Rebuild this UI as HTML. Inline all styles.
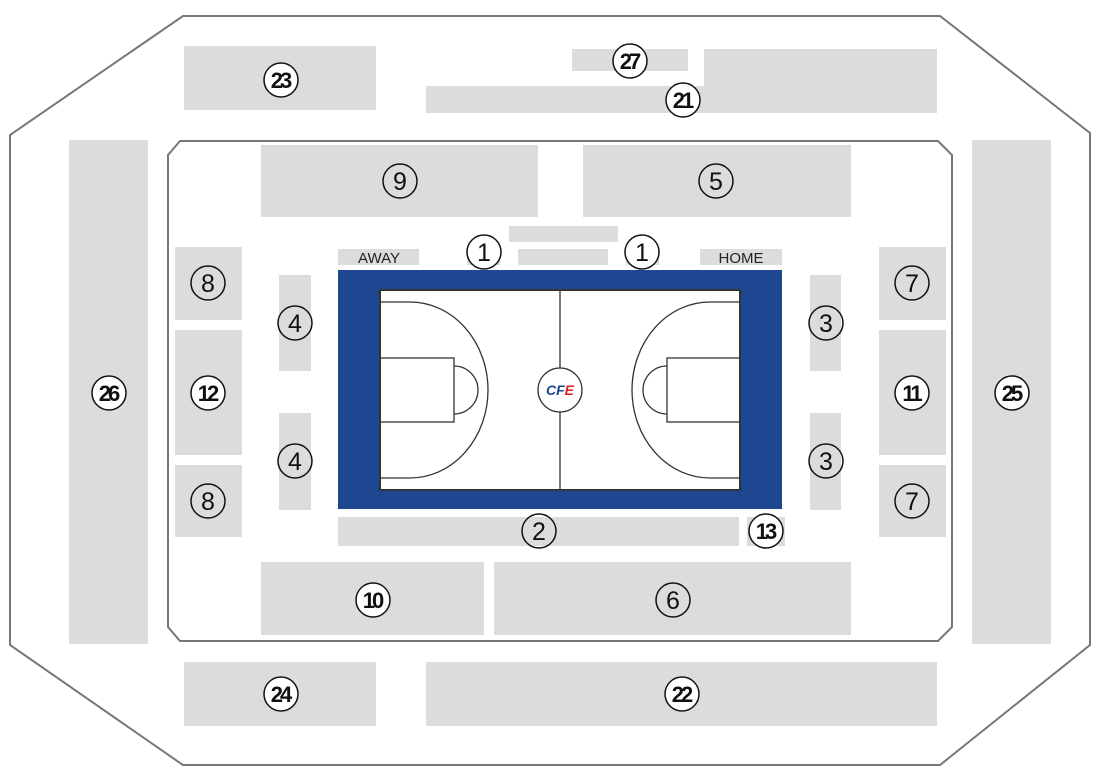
<!DOCTYPE html>
<html><head><meta charset="utf-8"><style>html,body{margin:0;padding:0;background:#fff}svg{display:block}</style></head>
<body>
<svg width="1100" height="780" viewBox="0 0 1100 780" xmlns="http://www.w3.org/2000/svg" font-family="Liberation Sans, sans-serif">
<polygon points="183,16 940,16 1090,133 1090,645 940,765 183,765 10,645 10,135" fill="#fff" stroke="#777" stroke-width="2"/>
<polygon points="180,141 938,141 952,155 952,627 938,641 180,641 168,627 168,155" fill="#fff" stroke="#777" stroke-width="2"/>
<g fill="#dcdcdc">
<rect x="184" y="46" width="192" height="64"/>
<rect x="572" y="49" width="116" height="22"/>
<rect x="704" y="49" width="233" height="64"/>
<rect x="426" y="86" width="280" height="27"/>
<rect x="69" y="140" width="79" height="504"/>
<rect x="972" y="140" width="79" height="504"/>
<rect x="261" y="145" width="277" height="72"/>
<rect x="583" y="145" width="268" height="72"/>
<rect x="509" y="226" width="109" height="16"/>
<rect x="518" y="249" width="90" height="16"/>
<rect x="338" y="249" width="81" height="16"/>
<rect x="700" y="249" width="82" height="16"/>
<rect x="467" y="249" width="33" height="16"/>
<rect x="626" y="249" width="33" height="16"/>
<rect x="175" y="247" width="67" height="73"/>
<rect x="175" y="330" width="67" height="125"/>
<rect x="175" y="465" width="67" height="72"/>
<rect x="879" y="247" width="67" height="73"/>
<rect x="879" y="330" width="67" height="125"/>
<rect x="879" y="465" width="67" height="72"/>
<rect x="279" y="275" width="32" height="96"/>
<rect x="279" y="413" width="32" height="97"/>
<rect x="810" y="275" width="31" height="96"/>
<rect x="810" y="413" width="31" height="97"/>
<rect x="338" y="517" width="401" height="29"/>
<rect x="747" y="517" width="38" height="29"/>
<rect x="261" y="562" width="223" height="73"/>
<rect x="494" y="562" width="357" height="73"/>
<rect x="184" y="662" width="192" height="64"/>
<rect x="426" y="662" width="511" height="64"/>
</g>
<text x="379" y="263" font-size="15" text-anchor="middle" fill="#222">AWAY</text>
<text x="741" y="263" font-size="15" text-anchor="middle" fill="#222">HOME</text>
<rect x="338" y="270" width="444" height="239" fill="#1f4690"/>
<g fill="none" stroke="#333" stroke-width="1.3">
<rect x="380" y="290" width="360" height="200" fill="#fff" stroke-width="2"/>
<line x1="560" y1="290" x2="560" y2="490"/>
<circle cx="560" cy="390" r="22" fill="#fff"/>
<path d="M380,302 H410 A78,88 0 0 1 410,478 H380"/>
<rect x="380" y="358" width="74" height="64"/>
<path d="M454,366 A24,24 0 0 1 454,414"/>
<path d="M740,302 H710 A78,88 0 0 0 710,478 H740"/>
<rect x="667" y="358" width="73" height="64"/>
<path d="M667,366 A24,24 0 0 0 667,414"/>
</g>
<text x="560" y="395" font-size="14" font-weight="bold" font-style="italic" text-anchor="middle" fill="#1f4690">CF<tspan fill="#d22">E</tspan></text>
<g text-anchor="middle" fill="#111" stroke="none">
<g fill="none" stroke="#111" stroke-width="1.5">
<circle cx="484" cy="252" r="17" fill="#fff"/><circle cx="642" cy="252" r="17" fill="#fff"/>
<circle cx="281" cy="80" r="17" fill="#fff"/><circle cx="630" cy="61" r="17" fill="#fff"/><circle cx="683" cy="100" r="17" fill="#fff"/>
<circle cx="400" cy="181" r="17"/><circle cx="716" cy="181" r="17"/>
<circle cx="208" cy="283" r="17"/><circle cx="208" cy="393" r="17" fill="#fff"/><circle cx="208" cy="501" r="17"/>
<circle cx="295" cy="323" r="17"/><circle cx="295" cy="461" r="17"/>
<circle cx="826" cy="323" r="17"/><circle cx="826" cy="461" r="17"/>
<circle cx="912" cy="283" r="17"/><circle cx="912" cy="393" r="17" fill="#fff"/><circle cx="912" cy="501" r="17"/>
<circle cx="109" cy="393" r="17" fill="#fff"/><circle cx="1012" cy="393" r="17" fill="#fff"/>
<circle cx="539" cy="531" r="17"/><circle cx="766" cy="531" r="17" fill="#fff"/>
<circle cx="373" cy="600" r="17" fill="#fff"/><circle cx="673" cy="600" r="17"/>
<circle cx="281" cy="694" r="17" fill="#fff"/><circle cx="682" cy="694" r="17" fill="#fff"/>
</g>
<g font-size="25"><text x="484" y="261">1</text><text x="642" y="261">1</text>
<text x="400" y="190">9</text><text x="716" y="190">5</text>
<text x="208" y="292">8</text><text x="208" y="510">8</text>
<text x="295" y="332">4</text><text x="295" y="470">4</text>
<text x="826" y="332">3</text><text x="826" y="470">3</text>
<text x="912" y="292">7</text><text x="912" y="510">7</text>
<text x="539" y="540">2</text><text x="673" y="609">6</text></g>
<g font-size="22" font-weight="bold" letter-spacing="-3">
<text x="280" y="88">23</text><text x="629" y="69">27</text><text x="682" y="108">21</text>
<text x="207" y="401">12</text><text x="911" y="401">11</text>
<text x="108" y="401">26</text><text x="1011" y="401">25</text>
<text x="765" y="539">13</text><text x="372" y="608">10</text>
<text x="280" y="702">24</text><text x="681" y="702">22</text></g>
</g>
</svg>
</body></html>
